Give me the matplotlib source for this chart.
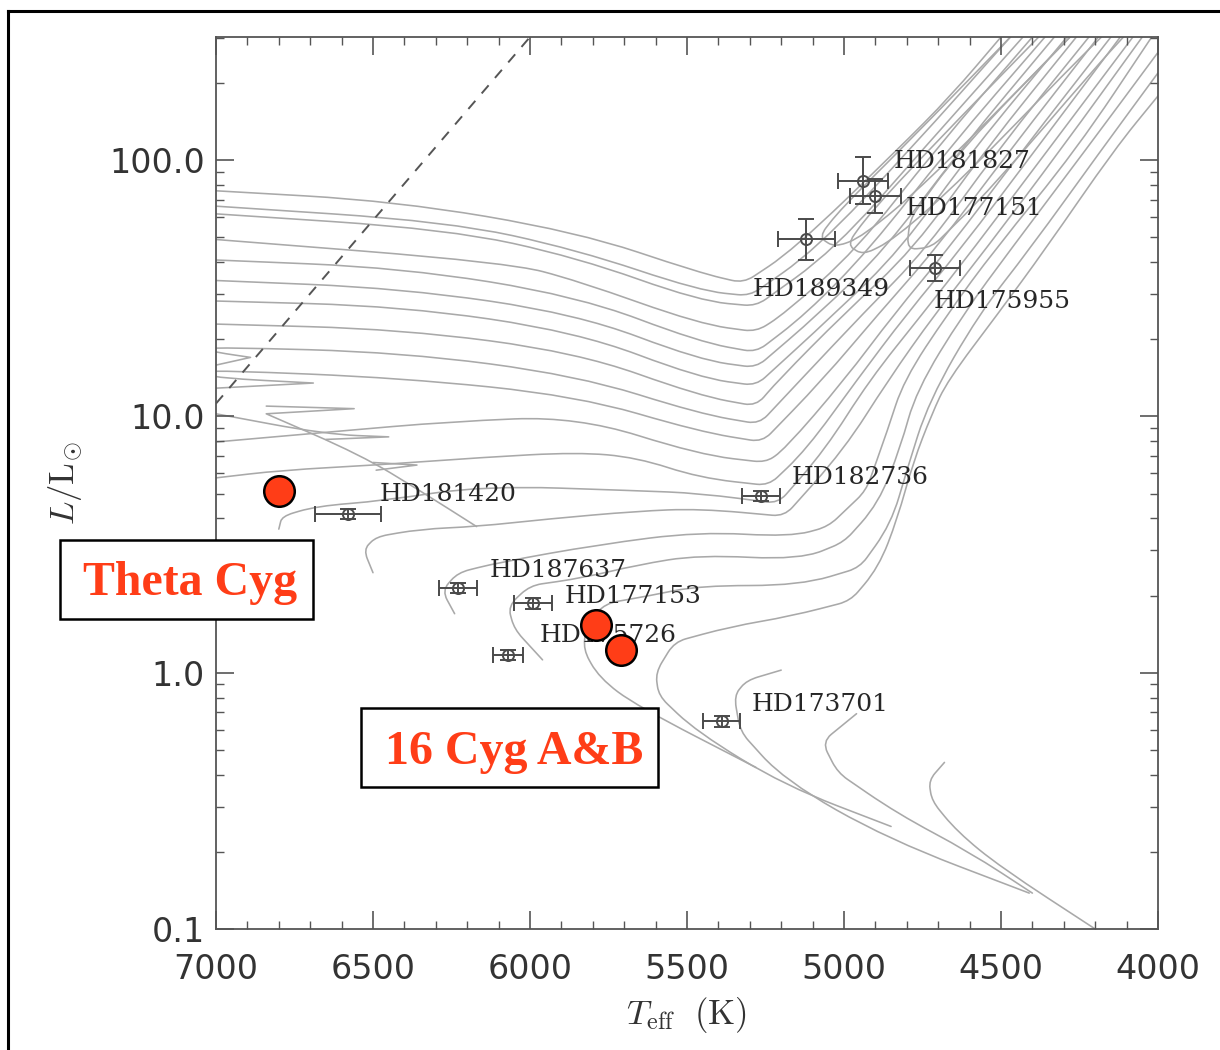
import numpy as np
import matplotlib.pyplot as plt
from matplotlib.patches import Rectangle, PathPatch
from matplotlib.path import Path
from matplotlib.lines import Line2D
from matplotlib.ticker import MultipleLocator, LogLocator, NullFormatter

plt.rcParams['mathtext.fontset'] = 'cm'

# evolutionary tracks, vertices as (Teff [K], log L/Lsun)
tracks = [
    [(7000, 1.88), (6430, 1.84), (5850, 1.72), (5460, 1.56), (5320, 1.52), (5160, 1.65), (4830, 2.04), (4660, 2.25), (4500, 2.48)],
    [(7000, 1.82), (6260, 1.76), (5850, 1.65), (5460, 1.49), (5300, 1.47), (5090, 1.65), (4790, 2.04), (4470, 2.48)],
    [(7000, 1.79), (6260, 1.73), (5850, 1.62), (5460, 1.45), (5280, 1.43), (5030, 1.65), (4750, 2.04), (4430, 2.48)],
    [(7000, 1.69), (6070, 1.60), (5850, 1.53), (5460, 1.36), (5280, 1.33), (5190, 1.40), (4960, 1.65), (4710, 2.04), (4400, 2.48)],
    [(7000, 1.61), (6410, 1.58), (5850, 1.47), (5460, 1.29), (5280, 1.25), (5120, 1.40), (4920, 1.65), (4670, 2.04), (4360, 2.48)],
    [(7000, 1.53), (6410, 1.50), (5850, 1.40), (5460, 1.22), (5280, 1.19), (5080, 1.40), (4870, 1.65), (4630, 2.04), (4330, 2.48)],
    [(7000, 1.45), (6410, 1.43), (5850, 1.33), (5460, 1.15), (5280, 1.12), (5030, 1.40), (4820, 1.65), (4590, 2.04), (4290, 2.48)],
    [(7000, 1.36), (6410, 1.34), (5850, 1.25), (5460, 1.08), (5280, 1.04), (5210, 1.14), (5000, 1.40), (4780, 1.65), (4550, 2.04), (4260, 2.48)],
    [(7000, 1.20), (6890, 1.23), (7000, 1.25), (7025, 1.26), (7000, 1.27), (6410, 1.25), (5850, 1.16), (5460, 1.01), (5270, 0.97),
     (5140, 1.14), (4940, 1.40), (4740, 1.65), (4510, 2.04), (4220, 2.48)],
    [(7000, 1.11), (6690, 1.13), (7000, 1.15), (7035, 1.17), (7000, 1.18), (6410, 1.15), (5850, 1.08), (5460, 0.94), (5260, 0.90),
     (5070, 1.14), (4890, 1.40), (4710, 1.65), (4470, 2.04), (4190, 2.48)],
    [(7000, 0.90), (6630, 0.94), (6250, 0.98), (5850, 1.00), (5460, 0.85), (5250, 0.82), (5190, 0.87), (5000, 1.14), (4840, 1.40),
     (4670, 1.65), (4430, 2.04), (4150, 2.48)],
    [(7000, 0.76), (6790, 0.79), (6490, 0.81), (6150, 0.84), (5850, 0.86), (5660, 0.84), (5460, 0.76), (5240, 0.73), (5120, 0.87),
     (4960, 1.14), (4800, 1.40), (4630, 1.65), (4390, 2.04), (4120, 2.48)],
    [(6800, 0.56), (6790, 0.61), (6680, 0.65), (6470, 0.67), (6150, 0.73), (5660, 0.71), (5460, 0.70), (5210, 0.66), (5060, 0.87),
     (4920, 1.14), (4750, 1.40), (4590, 1.65), (4350, 2.04), (4080, 2.48)],
    [(6500, 0.39), (6530, 0.48), (6490, 0.53), (6350, 0.56), (6170, 0.57), (5940, 0.60), (5660, 0.63), (5460, 0.64), (5190, 0.61),
     (5000, 0.87), (4860, 1.14), (4710, 1.40), (4550, 1.65), (4310, 2.04), (4050, 2.48)],
    [(6240, 0.23), (6280, 0.32), (6230, 0.39), (6100, 0.43), (5780, 0.50), (5460, 0.55), (5170, 0.53), (5050, 0.57), (4930, 0.71),
     (4860, 0.95), (4810, 1.14), (4670, 1.40), (4520, 1.65), (4260, 2.04), (4020, 2.48)],
    [(5960, 0.05), (6050, 0.17), (6070, 0.26), (6000, 0.34), (5830, 0.37), (5660, 0.42), (5460, 0.46), (5140, 0.44), (5000, 0.51),
     (4890, 0.66), (4820, 0.88), (4770, 1.10), (4620, 1.40), (4470, 1.65), (4230, 2.04), (4000, 2.42)],
    [(5280, -0.37), (5660, -0.13), (5780, -0.02), (5830, 0.09), (5820, 0.19), (5760, 0.27), (5620, 0.30), (5460, 0.34), (5140, 0.34),
     (4950, 0.41), (4850, 0.58), (4800, 0.79), (4730, 1.06), (4570, 1.40), (4410, 1.65), (4180, 2.04), (4000, 2.34)],
    [(4850, -0.60), (5190, -0.44), (5470, -0.23), (5590, -0.09), (5600, 0.00), (5540, 0.12), (5360, 0.18), (5170, 0.22), (4980, 0.28),
     (4890, 0.41), (4830, 0.60), (4780, 0.82), (4720, 1.01), (4670, 1.14), (4510, 1.40), (4360, 1.65), (4140, 2.04), (4000, 2.25)],
    # main-sequence hooks
    [(6840, 1.04), (6560, 1.03), (6840, 1.01), (6540, 0.85), (6350, 0.71), (6170, 0.57)],
    [(7000, 1.01), (6650, 0.93), (6450, 0.92), (6650, 0.91)],
    [(6500, 0.82), (6360, 0.81), (6490, 0.79)],
    # low-mass tracks
    [(5200, 0.01), (5310, -0.03), (5350, -0.09), (5330, -0.23), (5190, -0.42), (4860, -0.65), (4410, -0.86)],
    [(4960, -0.16), (5070, -0.27), (5020, -0.39), (4830, -0.55), (4600, -0.70), (4400, -0.86)],
    [(4680, -0.35), (4730, -0.42), (4720, -0.50), (4640, -0.62), (4500, -0.76), (4200, -1.00)],
    # core helium burning loops
    [(4470, 2.48), (4820, 2.04), (5010, 1.81), (5080, 1.70), (5030, 1.66), (4940, 1.70), (4730, 1.92), (4400, 2.33), (4280, 2.48)],
    [(4380, 2.48), (4730, 2.04), (4920, 1.79), (4990, 1.67), (4940, 1.63), (4840, 1.69), (4620, 1.93), (4280, 2.36), (4180, 2.48)],
    [(4280, 2.48), (4630, 2.04), (4790, 1.77), (4800, 1.65), (4720, 1.66), (4530, 1.89), (4200, 2.36), (4110, 2.48)],
]

# asteroseismic targets with error bars
star_names = ['HD181827', 'HD177151', 'HD189349', 'HD175955', 'HD182736',
              'HD181420', 'HD187637', 'HD177153', 'HD175726', 'HD173701']
star_teff = [4940, 4900, 5120, 4710, 5265, 6580, 6230, 5990, 6070, 5390]
star_logl = [1.92, 1.86, 1.69, 1.58, 0.69, 0.62, 0.33, 0.27, 0.07, -0.19]
star_teff_err = [80, 80, 90, 80, 60, 105, 60, 60, 48, 60]
star_logl_err = [0.09, 0.065, 0.08, 0.05, 0.02, 0.02, 0.02, 0.02, 0.02, 0.02]
label_offsets = [(22, 14), (22, -9), (-39, -36), (-1, -24), (22, 13),
                 (23, 14), (23, 13), (23, 5), (23, 14), (22, 12)]

# highlighted stars: Theta Cyg, 16 Cyg A, 16 Cyg B
target_teff = [6800, 5790, 5710]
target_lum = [5.1, 1.54, 1.23]

# dashed boundary line
edge_teff = [7000, 6000]
edge_logl = [1.05, 2.48]

track_color = '#a9a9a9'
ink = '#333333'
red = '#ff3d17'


def track_path(pts, corner=12.0):
    """Bezier path through the vertices: gentle bends smoothed, knees tight,
    reversals (hooks) left sharp."""
    t = np.array([p[0] for p in pts], float)
    g = np.array([p[1] for p in pts], float)
    px = -t * 0.314          # approx. screen pixels
    py = g * 256.5
    verts = [(t[0], g[0])]
    codes = [Path.MOVETO]
    for i in range(1, len(t) - 1):
        a = np.array([px[i] - px[i - 1], py[i] - py[i - 1]])
        b = np.array([px[i + 1] - px[i], py[i + 1] - py[i]])
        la, lb = np.hypot(*a), np.hypot(*b)
        c = a.dot(b) / (la * lb + 1e-9)
        if c < -0.3:
            verts.append((t[i], g[i]))
            codes.append(Path.LINETO)
            continue
        if c < 0.9:
            fa = min(corner, 0.4 * la) / la
            fb = min(corner, 0.4 * lb) / lb
        else:
            fa = fb = 0.5
        p_in = (t[i] + fa * (t[i - 1] - t[i]), g[i] + fa * (g[i - 1] - g[i]))
        p_out = (t[i] + fb * (t[i + 1] - t[i]), g[i] + fb * (g[i + 1] - g[i]))
        verts += [p_in, (t[i], g[i]), p_out]
        codes += [Path.LINETO, Path.CURVE3, Path.CURVE3]
    verts.append((t[-1], g[-1]))
    codes.append(Path.LINETO)
    verts = [(v[0], 10 ** v[1]) for v in verts]
    return Path(verts, codes)


fig = plt.figure(figsize=(12.2, 10.5), dpi=100)
ax = fig.add_axes([216 / 1220, 1 - 929 / 1050, 942 / 1220, 892 / 1050])
ax.set_yscale('log')
ax.set_xlim(7000, 4000)
ax.set_ylim(0.1, 10 ** 2.48)

for tr in tracks:
    ax.add_patch(PathPatch(track_path(tr), fill=False, ec=track_color, lw=1.15,
                           joinstyle='round', capstyle='round', zorder=1))

ax.plot(edge_teff, 10 ** np.array(edge_logl), color='#555555', lw=1.4,
        dashes=(5.5, 5.0), zorder=2)

st_l = 10 ** np.array(star_logl)
lo = st_l - 10 ** (np.array(star_logl) - np.array(star_logl_err))
hi = 10 ** (np.array(star_logl) + np.array(star_logl_err)) - st_l
ax.errorbar(star_teff, st_l, xerr=star_teff_err, yerr=[lo, hi], fmt='o', ms=8,
            mfc='none', mec='#4a4a4a', mew=1.4, ecolor='#4a4a4a', elinewidth=1.4,
            capsize=6, capthick=1.4, zorder=3)

for name, t, l, off in zip(star_names, star_teff, st_l, label_offsets):
    ax.annotate(name, (t, l), xytext=off, textcoords='offset points',
                ha='left', va='center', fontsize=18, family='DejaVu Serif',
                color='#262626', zorder=4)

ax.plot(target_teff, target_lum, 'o', ms=22, mfc=red, mec='black', mew=1.8,
        zorder=6, clip_on=False)

ax.set_xticks(np.arange(7000, 3999, -500))
ax.xaxis.set_minor_locator(MultipleLocator(100))
ax.set_yticks([0.1, 1, 10, 100])
ax.set_yticklabels(['0.1', '1.0', '10.0', '100.0'])
ax.yaxis.set_minor_locator(LogLocator(base=10, subs=np.arange(2, 10)))
ax.yaxis.set_minor_formatter(NullFormatter())

ax.tick_params(which='both', direction='in', top=True, right=True,
               color='#555555', labelcolor=ink, labelsize=24)
ax.tick_params(which='major', length=13, width=1.2)
ax.tick_params(which='minor', length=6, width=1.0)
ax.tick_params(axis='x', pad=17)
ax.tick_params(axis='y', pad=8)
for sp in ax.spines.values():
    sp.set_color('#555555')
    sp.set_linewidth(1.3)

fig.text(687 / 1220, 1 - 1015 / 1050, r'$T_{\rm eff}\ \ (\rm K)$', ha='center',
         va='center', fontsize=25, color=ink)
fig.text(65 / 1220, 1 - 483 / 1050, r'$L/\rm L_{\odot}$', ha='center',
         va='center', fontsize=25, color=ink, rotation=90)

# outer frame
fig.add_artist(Line2D([8 / 1220, 1.0], [1 - 11 / 1050, 1 - 11 / 1050],
                      color='black', lw=2.2, transform=fig.transFigure))
fig.add_artist(Line2D([8 / 1220, 8 / 1220], [0.0, 1 - 11 / 1050],
                      color='black', lw=2.2, transform=fig.transFigure))

# name boxes
fig.add_artist(Rectangle((60 / 1220, 1 - 619 / 1050), 253 / 1220, 79 / 1050,
                         fill=True, fc='white', ec='black', lw=1.8,
                         transform=fig.transFigure, zorder=5))
fig.text(83 / 1220, 1 - 595 / 1050, 'Theta Cyg', ha='left', va='baseline',
         fontsize=34.5, family='Liberation Serif', weight='bold', color=red, zorder=6)
fig.add_artist(Rectangle((361 / 1220, 1 - 787 / 1050), 297 / 1220, 79 / 1050,
                         fill=True, fc='white', ec='black', lw=1.8,
                         transform=fig.transFigure, zorder=5))
fig.text(385 / 1220, 1 - 764 / 1050, '16 Cyg A&B', ha='left', va='baseline',
         fontsize=34.5, family='Liberation Serif', weight='bold', color=red, zorder=6)

fig.savefig('out.png', dpi=100)
